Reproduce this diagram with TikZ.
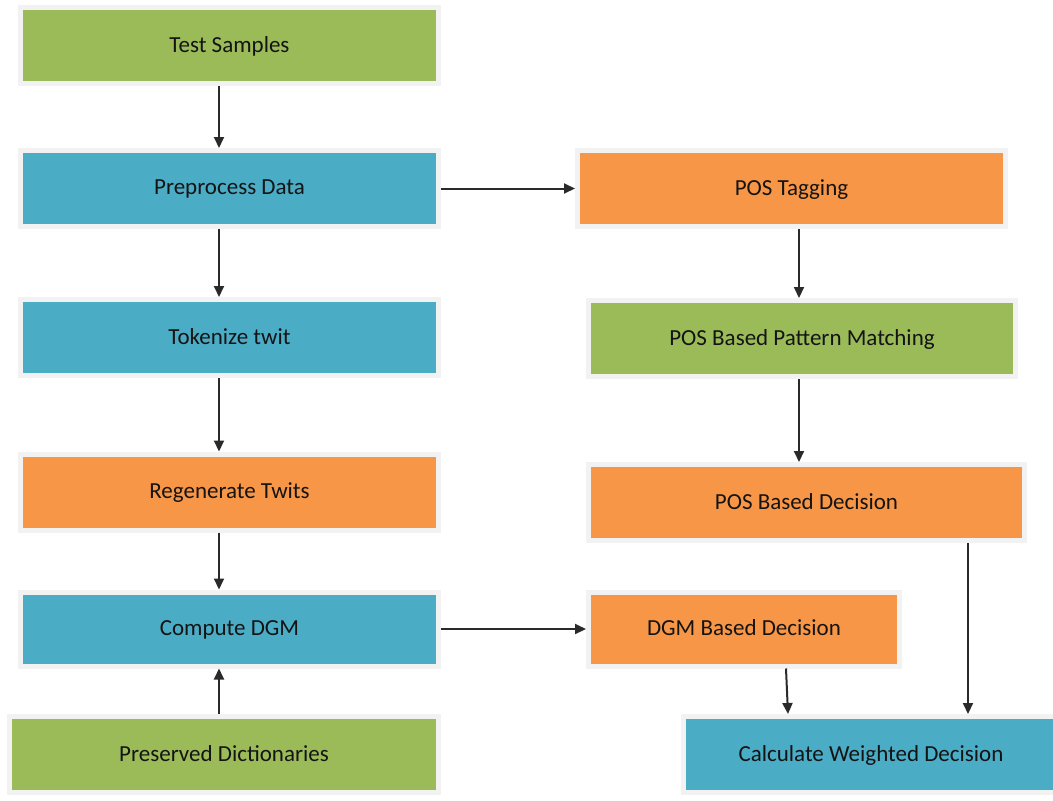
\documentclass[tikz,border=0pt]{standalone}
\usepackage{fontspec}
\setmainfont{Carlito}
\usetikzlibrary{arrows.meta,shadows}
\definecolor{cgreen}{HTML}{9BBB59}
\definecolor{cblue}{HTML}{4BACC6}
\definecolor{corange}{HTML}{F79646}
\definecolor{frame}{HTML}{F2F2F2}
\definecolor{txt}{HTML}{141414}
\definecolor{arrowc}{HTML}{2A2A2A}
\tikzset{
  box/.style={draw=frame, line width=5pt, inner sep=0pt, minimum height=76pt,
    font=\fontsize{23}{28}\selectfont, text=txt, text depth=2pt},
  gbox/.style={box, fill=cgreen, drop shadow={shadow xshift=2.5pt, shadow yshift=-2.5pt, fill=cgreen!55!gray, opacity=0.8}},
  bbox/.style={box, fill=cblue, drop shadow={shadow xshift=2.5pt, shadow yshift=-2.5pt, fill=cblue!50!gray, opacity=0.8}},
  obox/.style={box, fill=corange, drop shadow={shadow xshift=2.5pt, shadow yshift=-2.5pt, fill=corange!60!brown, opacity=0.7}},
  arr/.style={draw=arrowc, line width=2pt, -{Triangle[length=11pt,width=10pt]}}
}
\begin{document}
\begin{tikzpicture}[x=1pt,y=-1pt]
\useasboundingbox (0,0) rectangle (1053,801);
\begin{scope}
\clip (0,0) rectangle (1053,801);
% left column
\node[gbox, minimum width=418pt] (ts) at (229.5,45.5) {Test Samples};
\node[bbox, minimum width=418pt] (pp) at (229.5,188.5) {Preprocess Data};
\node[bbox, minimum width=418pt] (tk) at (229.5,337.5) {Tokenize twit};
\node[obox, minimum width=418pt] (rg) at (229.5,492) {Regenerate Twits};
\node[bbox, minimum width=418pt, minimum height=74pt] (cd) at (229.5,629) {Compute DGM};
\node[gbox, minimum width=429pt] (pd) at (224,754.5) {Preserved Dictionaries};
% right column
\node[obox, minimum width=428pt] (pt) at (791.5,188.5) {POS Tagging};
\node[gbox, minimum width=427pt] (pm) at (802,338.5) {POS Based Pattern Matching};
\node[obox, minimum width=436pt] (pdc) at (806.5,502.5) {POS Based Decision};
\node[obox, minimum width=311pt, minimum height=74pt] (dgm) at (744,629) {DGM Based Decision};
\node[bbox, minimum width=376pt] (cw) at (871,754.5) {Calculate Weighted Decision};
\end{scope}
\coordinate (cL) at (219,0);
\coordinate (cR) at (799,0);
\coordinate (cW) at (968,0);
\coordinate (cD1) at (786,0);
\coordinate (cD2) at (788,0);
% arrows
\draw[arr] (ts.south -| cL) -- (pp.north -| cL);
\draw[arr] (pp.south -| cL) -- (tk.north -| cL);
\draw[arr] (tk.south -| cL) -- (rg.north -| cL);
\draw[arr] (rg.south -| cL) -- (cd.north -| cL);
\draw[arr] (pd.north -| cL) -- (cd.south -| cL);
\draw[arr] (pp.east) -- (pt.west);
\draw[arr] (cd.east) -- (dgm.west);
\draw[arr] (pt.south -| cR) -- (pm.north -| cR);
\draw[arr] (pm.south -| cR) -- (pdc.north -| cR);
\draw[arr] (pdc.south -| cW) -- (cw.north -| cW);
\draw[arr] (dgm.south -| cD1) -- (cw.north -| cD2);
\end{tikzpicture}
\end{document}
